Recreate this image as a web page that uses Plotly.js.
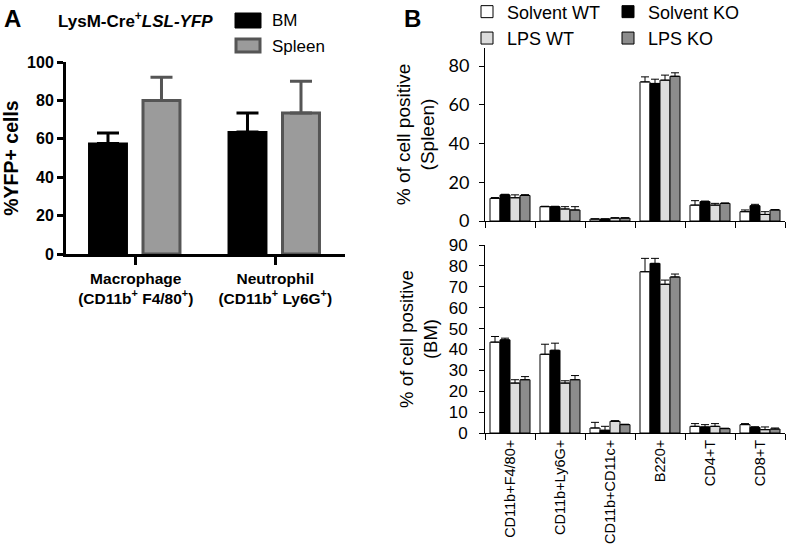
<!DOCTYPE html>
<html><head><meta charset="utf-8">
<script src="https://cdn.plot.ly/plotly-3.0.1.min.js"></script>
<style>html,body{margin:0;padding:0;background:#fff}</style>
</head><body><div id="chart" style="width:796px;height:546px"></div>
<script>
// Panel A data
const catsA = ["Macrophage<br>(CD11b<sup>+</sup> F4/80<sup>+</sup>)", "Neutrophil<br>(CD11b<sup>+</sup> Ly6G<sup>+</sup>)"];
const bmVals = [57.5, 63.5];
const bmErr = [5.5, 10];
const spleenVals = [80, 73.5];
const spleenErr = [12, 16.5];
const seriesA = ["BM", "Spleen"];

// Panel B data
const catsB = ["CD11b+F4/80+", "CD11b+Ly6G+", "CD11b+CD11c+", "B220+", "CD4+T", "CD8+T"];
const seriesB = ["Solvent WT", "Solvent KO", "LPS WT", "LPS KO"];
const solWT_sp = [11.7, 7.4, 1.0, 71.8, 8.2, 4.8];
const solWT_spErr = [0.4, 0.2, 0.1, 2.6, 2.3, 0.9];
const solKO_sp = [13.5, 7.4, 1.0, 71.0, 10.0, 7.9];
const solKO_spErr = [0.3, 0.2, 0.1, 2.2, 0.3, 0.7];
const lpsWT_sp = [12.0, 6.2, 1.5, 72.7, 8.2, 3.4];
const lpsWT_spErr = [1.5, 1.2, 0.2, 2.6, 0.9, 1.4];
const lpsKO_sp = [13.2, 5.7, 1.5, 74.7, 9.1, 5.7];
const lpsKO_spErr = [0.4, 1.7, 0.2, 1.8, 0.2, 0.2];

const solWT_bm = [43.5, 37.7, 2.4, 77.2, 3.2, 4.0];
const solWT_bmErr = [2.7, 4.8, 2.7, 6.4, 1.3, 0.5];
const solKO_bm = [44.6, 39.6, 1.3, 81.2, 2.9, 2.7];
const solKO_bmErr = [0.8, 3.4, 1.9, 2.4, 1.1, 0.3];
const lpsWT_bm = [23.9, 23.9, 5.6, 71.2, 3.2, 1.6];
const lpsWT_bmErr = [1.6, 1.1, 0.3, 2.0, 1.3, 1.3];
const lpsKO_bm = [25.5, 25.5, 4.0, 74.7, 2.1, 1.9];
const lpsKO_bmErr = [1.5, 2.0, 0.2, 1.4, 0.2, 0.5];

const W = 796, H = 546;
const px = x => x / W, py = y => 1 - y / H;
const SANS = "Liberation Sans, Arial, sans-serif";

const colorsB = ["#ffffff", "#000000", "#dcdcdc", "#8c8c8c"];
const spVals = [solWT_sp, solKO_sp, lpsWT_sp, lpsKO_sp];
const spErrs = [solWT_spErr, solKO_spErr, lpsWT_spErr, lpsKO_spErr];
const bmV = [solWT_bm, solKO_bm, lpsWT_bm, lpsKO_bm];
const bmE = [solWT_bmErr, solKO_bmErr, lpsWT_bmErr, lpsKO_bmErr];

const traces = [];
// Panel A
traces.push({
  type: "bar", name: seriesA[0], x: catsA, y: bmVals, xaxis: "x", yaxis: "y",
  width: 0.272, offset: -0.335, showlegend: false,
  marker: {color: "#000", line: {color: "#000", width: 2}},
  error_y: {type: "data", symmetric: false, array: bmErr, arrayminus: [0, 0], color: "#000", thickness: 3, width: 11}
});
traces.push({
  type: "bar", name: seriesA[1], x: catsA, y: spleenVals, xaxis: "x", yaxis: "y",
  width: 0.265, offset: 0.052, showlegend: false,
  marker: {color: "#9b9b9b", line: {color: "#555", width: 3}},
  error_y: {type: "data", symmetric: false, array: spleenErr, arrayminus: [0, 0], color: "#555", thickness: 3, width: 11}
});
// Panel B
for (let i = 0; i < 4; i++) {
  traces.push({
    type: "bar", name: seriesB[i], x: catsB, y: spVals[i], xaxis: "x2", yaxis: "y2",
    legend: (i % 2 === 0) ? "legend" : "legend2",
    marker: {color: colorsB[i], line: {color: "#000", width: 1}},
    error_y: {type: "data", symmetric: false, array: spErrs[i], arrayminus: catsB.map(() => 0), color: "#000", thickness: 1, width: 4}
  });
}
for (let i = 0; i < 4; i++) {
  traces.push({
    type: "bar", name: seriesB[i], x: catsB, y: bmV[i], xaxis: "x3", yaxis: "y3", showlegend: false,
    marker: {color: colorsB[i], line: {color: "#000", width: 1}},
    error_y: {type: "data", symmetric: false, array: bmE[i], arrayminus: catsB.map(() => 0), color: "#000", thickness: 1, width: 4}
  });
}

const layout = {
  width: W, height: H, margin: {l: 0, r: 0, t: 0, b: 0, autoexpand: false},
  paper_bgcolor: "#fff", plot_bgcolor: "rgba(0,0,0,0)",
  barmode: "group", bargap: 0.2, bargroupgap: 0,
  font: {family: SANS, color: "#000"},
  xaxis: {
    domain: [px(66), px(345)], anchor: "y", type: "category", range: [-0.5, 1.5],
    showline: true, linewidth: 3, linecolor: "#000", ticks: "outside", ticklen: 8, tickwidth: 3, tickcolor: "#000",
    tickfont: {family: SANS, size: 15.5, color: "#000", weight: "bold"},
    showgrid: false, zeroline: false, automargin: false
  },
  yaxis: {
    domain: [py(254), py(62)], anchor: "x", range: [0, 100], dtick: 20,
    showline: true, linewidth: 3, linecolor: "#000", ticks: "outside", ticklen: 6, tickwidth: 3, tickcolor: "#000",
    tickfont: {family: SANS, size: 16, color: "#000", weight: "bold"}, showgrid: false, zeroline: false,
    title: {text: "%YFP+ cells", font: {family: SANS, size: 19.5, color: "#000", weight: "bold"}, standoff: 7},
    automargin: false
  },
  xaxis2: {
    domain: [px(485), px(785)], anchor: "y2", type: "category", range: [-0.5, 5.5],
    showline: true, linewidth: 1, linecolor: "#000", ticks: "outside", ticklen: 6, tickwidth: 1, tickcolor: "#000",
    tickson: "boundaries", showticklabels: false, showgrid: false, zeroline: false, automargin: false
  },
  yaxis2: {
    domain: [py(221), py(48)], anchor: "x2", range: [0, 89.3], tickvals: [0, 20, 40, 60, 80],
    showline: true, linewidth: 1, linecolor: "#000", ticks: "outside", ticklen: 5, tickwidth: 1, tickcolor: "#000",
    ticklabelstandoff: 6,
    tickfont: {family: "Lato, sans-serif", size: 18, color: "#000"}, showgrid: false, zeroline: false,
    title: {text: "% of cell positive<br>(Spleen)", font: {family: SANS, size: 19, color: "#000"}, standoff: 8},
    automargin: false
  },
  xaxis3: {
    domain: [px(485), px(785)], anchor: "y3", type: "category", range: [-0.5, 5.5],
    showline: true, linewidth: 1, linecolor: "#000", ticks: "outside", ticklen: 6, tickwidth: 1, tickcolor: "#000",
    tickson: "boundaries", tickangle: -90,
    tickfont: {family: SANS, size: 14.5, color: "#000"}, showgrid: false, zeroline: false, automargin: false
  },
  yaxis3: {
    domain: [py(433), py(245)], anchor: "x3", range: [0, 90], dtick: 10,
    showline: true, linewidth: 1, linecolor: "#000", ticks: "outside", ticklen: 5, tickwidth: 1, tickcolor: "#000",
    ticklabelstandoff: 8,
    tickfont: {family: SANS, size: 17, color: "#000"}, showgrid: false, zeroline: false,
    title: {text: "% of cell positive<br>(BM)", font: {family: SANS, size: 18.5, color: "#000"}, standoff: 6},
    automargin: false
  },
  legend: {
    x: px(467), y: 1.012, xanchor: "left", yanchor: "top", orientation: "v",
    font: {family: SANS, size: 18, color: "#000"},
    bgcolor: "rgba(0,0,0,0)", itemwidth: 30, tracegroupgap: 0, itemclick: false
  },
  legend2: {
    x: px(608), y: 1.012, xanchor: "left", yanchor: "top", orientation: "v",
    font: {family: SANS, size: 18, color: "#000"},
    bgcolor: "rgba(0,0,0,0)", itemwidth: 30, tracegroupgap: 0, itemclick: false
  },
  shapes: [
    {type: "rect", xref: "paper", yref: "paper", x0: px(235), x1: px(261), y0: py(28), y1: py(13), fillcolor: "#000", line: {color: "#000", width: 1}},
    {type: "rect", xref: "paper", yref: "paper", x0: px(236), x1: px(260), y0: py(52), y1: py(39), fillcolor: "#9b9b9b", line: {color: "#555", width: 3}}
  ],
  annotations: [
    {text: "<b>A</b>", xref: "paper", yref: "paper", x: px(2), y: py(19), xanchor: "left", yanchor: "middle", showarrow: false, font: {family: SANS, size: 24, color: "#000"}},
    {text: "<b>B</b>", xref: "paper", yref: "paper", x: px(402), y: py(19), xanchor: "left", yanchor: "middle", showarrow: false, font: {family: SANS, size: 24, color: "#000"}},
    {text: "<b>LysM-Cre<sup>+</sup><i>LSL-YFP</i></b>", xref: "paper", yref: "paper", x: px(56), y: py(20), xanchor: "left", yanchor: "middle", showarrow: false, font: {family: SANS, size: 17, color: "#000"}},
    {text: seriesA[0], xref: "paper", yref: "paper", x: px(270), y: py(21), xanchor: "left", yanchor: "middle", showarrow: false, font: {family: SANS, size: 17, color: "#000"}},
    {text: seriesA[1], xref: "paper", yref: "paper", x: px(270), y: py(46), xanchor: "left", yanchor: "middle", showarrow: false, font: {family: SANS, size: 17, color: "#000"}}
  ]
};
Plotly.newPlot("chart", traces, layout, {staticPlot: true, displayModeBar: false});
</script></body></html>
